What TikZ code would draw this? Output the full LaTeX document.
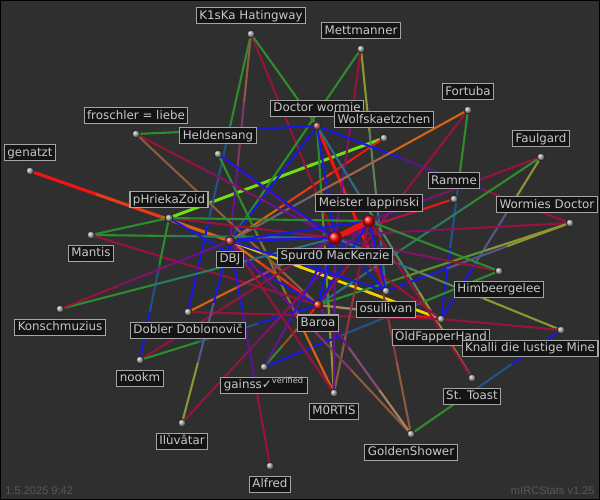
\documentclass[tikz,border=0pt]{standalone}
\usepackage{fontspec}
\setmainfont{DejaVu Sans}
\newfontfamily\stampfont{Liberation Sans}
\usetikzlibrary{positioning,calc}
\pgfdeclarelayer{bg}
\pgfdeclarelayer{edges}
\pgfsetlayers{bg,edges,main}
\definecolor{chartbg}{RGB}{47,47,47}
\definecolor{lblfill}{RGB}{20,20,20}
\definecolor{lblline}{RGB}{165,165,165}
\definecolor{lbltext}{RGB}{200,200,200}
\definecolor{stampgray}{RGB}{88,88,88}
\definecolor{linkblue}{RGB}{25,25,225}
\definecolor{linkred}{RGB}{240,20,20}
\definecolor{linkcrimson}{RGB}{150,20,60}
\definecolor{linkpurple}{RGB}{105,20,140}
\definecolor{linkgreen}{RGB}{45,140,45}
\definecolor{linklime}{RGB}{110,225,15}
\definecolor{linkolive}{RGB}{140,150,50}
\definecolor{linkteal}{RGB}{40,110,135}
\definecolor{linkorange}{RGB}{215,100,20}
\definecolor{linktan}{RGB}{170,130,95}
\definecolor{linkbrown}{RGB}{140,90,65}
\definecolor{linkyellow}{RGB}{240,210,0}
\definecolor{linkgray}{RGB}{110,100,110}

\begin{document}
\begin{tikzpicture}[x=0.02cm, y=-0.02cm,
  dot/.style={circle, inner sep=0pt, minimum size=0.16cm, draw=black!85, line width=0.5pt, ball color=gray!75!white},
  hub/.style={dot, minimum size=0.25cm, ball color=red},
  lbl/.style={draw=lblline, fill=lblfill, text=lbltext, line width=0.6pt,
    font=\fontsize{6.75pt}{8pt}\selectfont, inner xsep=1.7pt, inner ysep=1.2pt,
    text height=5.3pt, text depth=1.5pt},
  link/.style={line cap=butt},
  stamp/.style={text=stampgray, font=\stampfont\fontsize{6.3pt}{7pt}\selectfont, inner sep=0pt}]
\begin{pgfonlayer}{bg}
  \fill[chartbg] (0,0) rectangle (600,500);
\end{pgfonlayer}
\useasboundingbox (0,0) rectangle (600,500);

\node[dot] (k1ska) at (251,34) {};
\node[dot] (mett) at (361,49) {};
\node[dot, minimum size=0.17cm, ball color=red!35!gray] (docw) at (317,126) {};
\node[dot] (wolf) at (384,138) {};
\node[dot] (fortuba) at (468,110) {};
\node[dot] (faulgard) at (541,157) {};
\node[dot] (ramme) at (454,199) {};
\node[dot] (wormd) at (570,223) {};
\node[hub, minimum size=0.24cm] (meister) at (369,221) {};
\node[hub, minimum size=0.26cm] (spurd) at (335,238) {};
\node[dot] (frosch) at (136,134) {};
\node[dot] (helden) at (218,154) {};
\node[dot] (genatzt) at (30,171) {};
\node[dot] (phrieka) at (169,218) {};
\node[dot] (mantis) at (91,235) {};
\node[dot, minimum size=0.19cm, ball color=red!50!gray] (dbj) at (230,241) {};
\node[dot] (konsch) at (60,309) {};
\node[dot] (dobler) at (188,312) {};
\node[dot] (nookm) at (140,360) {};
\node[hub, minimum size=0.2cm, ball color=red!80!gray] (baroa) at (318,305) {};
\node[dot] (osull) at (386,291) {};
\node[dot] (himbeer) at (499,271) {};
\node[dot] (oldf) at (441,319) {};
\node[dot] (knalli) at (561,330) {};
\node[dot] (toast) at (472,378) {};
\node[dot] (mortis) at (334,393) {};
\node[dot] (golden) at (411,434) {};
\node[dot] (gainss) at (264,367) {};
\node[dot] (iluvatar) at (182,423) {};
\node[dot] (alfred) at (270,466) {};

\begin{pgfonlayer}{edges}
\foreach \a/\b/\ca/\cb/\w in {
  genatzt/dbj/linkred/linkorange/1.5, phrieka/wolf/linklime/linklime/1.4,
  dbj/wolf/linkorange/linkred/1, docw/osull/linkred/linkred/1.4,
  dbj/oldf/linkyellow/linkyellow/1.3, dbj/baroa/linkorange/linkred/1.1,
  baroa/oldf/linktan/linkred/1.1, k1ska/dobler/linkgreen/linkblue/1,
  k1ska/dbj/linkbrown/linkpurple/1, k1ska/spurd/linkcrimson/linkcrimson/1,
  k1ska/docw/linkgreen/linkgreen/1, mett/dbj/linkgreen/linkgreen/1,
  mett/osull/linkolive/linkteal/1, mett/spurd/linkcrimson/linkpurple/1,
  docw/dbj/linkblue/linkblue/1, frosch/docw/linkgreen/linkblue/1,
  docw/wormd/linkblue/linkcrimson/1, docw/mortis/linkgreen/linkolive/1,
  docw/spurd/linkblue/linkblue/1, docw/toast/linkteal/linkolive/1,
  fortuba/dbj/linkorange/linkgray/1, fortuba/baroa/linkcrimson/linkcrimson/1,
  fortuba/oldf/linkgreen/linkblue/1, faulgard/meister/linkcrimson/linkpurple/1,
  faulgard/baroa/linkgreen/linkteal/1, faulgard/oldf/linkolive/linkblue/1,
  ramme/spurd/linkred/linkpurple/1, wormd/dbj/linkcrimson/linkpurple/1,
  wormd/baroa/linkolive/linkgreen/1, osull/wormd/linkblue/linkolive/1,
  gainss/himbeer/linkblue/linkgreen/1, spurd/himbeer/linkpurple/linkcrimson/1,
  meister/himbeer/linkgreen/linkgreen/1, spurd/knalli/linkteal/linkolive/1,
  oldf/knalli/linkcrimson/linkcrimson/1, meister/toast/linkcrimson/linkcrimson/1,
  knalli/golden/linkblue/linkgreen/1, meister/golden/linkcrimson/linkbrown/1,
  helden/mortis/linkgreen/linkorange/1, helden/oldf/linkcrimson/linkcrimson/1,
  frosch/spurd/linkcrimson/linkpurple/1, frosch/baroa/linkbrown/linkbrown/1,
  mantis/phrieka/linkgreen/linkgreen/1, mantis/spurd/linkgreen/linkteal/1,
  mantis/baroa/linkcrimson/linkcrimson/1, phrieka/spurd/linkcrimson/linkcrimson/1,
  phrieka/meister/linkgreen/linkgreen/1, phrieka/baroa/linkblue/linkblue/1,
  phrieka/nookm/linkgreen/linkblue/1, dbj/alfred/linkblue/linkcrimson/1,
  nookm/spurd/linkcrimson/linkcrimson/1, nookm/baroa/linkgreen/linkblue/1,
  dobler/spurd/linkorange/linkpurple/1, dobler/oldf/linkcrimson/linkcrimson/1,
  iluvatar/dbj/linkolive/linkblue/1, iluvatar/meister/linkcrimson/linkpurple/1,
  gainss/baroa/linkgreen/linkred/1, mortis/dbj/linkcrimson/linkcrimson/1,
  mortis/meister/linkbrown/linkcrimson/1, konsch/spurd/linkgreen/linkteal/1,
  konsch/dbj/linkcrimson/linkpurple/1, spurd/dbj/linkblue/linkblue/1.1,
  spurd/baroa/linkblue/linkblue/1.1, spurd/osull/linkblue/linkblue/1,
  meister/baroa/linkblue/linkblue/1, meister/dbj/linkblue/linkblue/1,
  meister/osull/linkblue/linkblue/1, golden/dbj/linkbrown/linkpurple/1,
  baroa/golden/linkpurple/linktan/1, spurd/helden/linkblue/linkblue/1,
  spurd/gainss/linkblue/linkpurple/1, spurd/mortis/linkpurple/linkpurple/1,
  dbj/osull/linkblue/linkblue/1, spurd/meister/linkred/linkred/2.6}
{
  \draw[link, color=\ca, line width=1.2*\w pt] (\a.center) -- ($(\a)!.34!(\b)$);
  \draw[link, color=\ca!50!\cb, line width=1.2*\w pt] ($(\a)!.33!(\b)$) -- ($(\a)!.67!(\b)$);
  \draw[link, color=\cb, line width=1.2*\w pt] ($(\a)!.66!(\b)$) -- (\b.center);
}
\end{pgfonlayer}

\node[lbl, above=3pt of k1ska] {K1sKa Hatingway};
\node[lbl, above=3pt of mett] {Mettmanner};
\node[lbl, above=2.6pt of docw] {Doctor wormie};
\node[lbl, above=3pt of wolf] {Wolfskaetzchen};
\node[lbl, above=3pt of fortuba] {Fortuba};
\node[lbl, above=3pt of faulgard] {Faulgard};
\node[lbl, above=3pt of ramme] {Ramme};
\node[lbl, above=3pt of wormd, xshift=-0.46cm] {Wormies Doctor};
\node[lbl, above=1.7pt of meister] {Meister lappinski};
\node[lbl, below=1.7pt of spurd] {Spurd0 MacKenzie};
\node[lbl, above=3pt of frosch] {froschler = liebe};
\node[lbl, above=3pt of helden] {Heldensang};
\node[lbl, above=3pt of genatzt] {genatzt};
\node[lbl, above=3pt of phrieka] {pHriekaZoid};
\node[lbl, below=3pt of mantis] {Mantis};
\node[lbl, below=2.5pt of dbj] {DBJ};
\node[lbl, below=3pt of konsch] {Konschmuzius};
\node[lbl, below=3pt of dobler] {Dobler Doblonovič};
\node[lbl, below=3pt of nookm] {nookm};
\node[lbl, below=2.3pt of baroa] {Baroa};
\node[lbl, below=3pt of osull] {osullivan};
\node[lbl, below=3pt of himbeer] {Himbeergelee};
\node[lbl, below=3pt of oldf] {OldFapperHand};
\node[lbl, below=3pt of knalli, xshift=-0.62cm] {Knalli die lustige Mine};
\node[lbl, below=3pt of toast] {St. Toast};
\node[lbl, below=3pt of mortis] {M0RTIS};
\node[lbl, below=3pt of golden] {GoldenShower};
\node[lbl, below=3pt of gainss] {gainss✓\textsuperscript{verified}};
\node[lbl, below=3pt of iluvatar] {Ilùvâtar};
\node[lbl, below=3pt of alfred] {Alfred};

\node[stamp, anchor=base west] (date) at (5,495) {1.5.2025 9:42};
\node[stamp, anchor=base east] (version) at (595,495) {mIRCStats v1.25};
\draw[black, line width=0.6pt] (0.5,0.5) rectangle (599.5,499.5);
\end{tikzpicture}
\end{document}
